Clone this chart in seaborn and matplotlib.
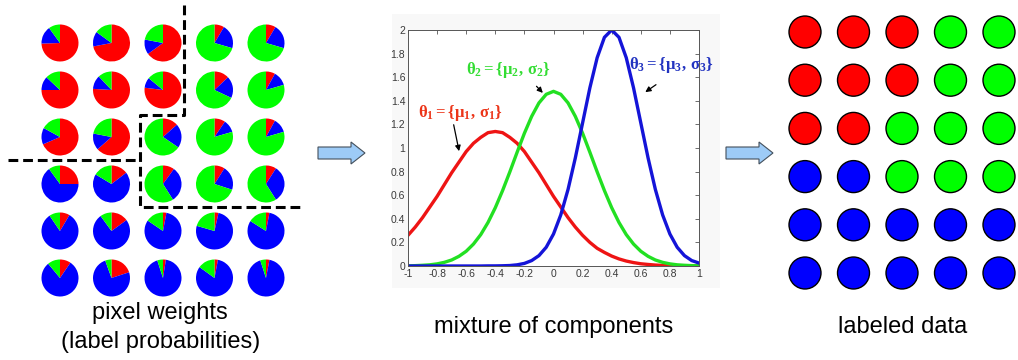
import numpy as np
import pandas as pd
import matplotlib.pyplot as plt
import matplotlib.patches as mpatches
import seaborn as sns

W, H, DPI = 1018, 360, 100

# pie fractions per pixel (rows top -> bottom, cols left -> right)
PIE_RED = [
    [0.745, 0.72, 0.65, 0.085, 0.085],
    [0.75, 0.76, 0.77, 0.13, 0.08],
    [0.685, 0.635, 0.135, 0.095, 0.08],
    [0.25, 0.146, 0.10, 0.09, 0.09],
    [0.085, 0.15, 0.03, 0.035, 0.03],
    [0.095, 0.20, 0.025, 0.03, 0.03],
]
PIE_BLUE = [
    [0.155, 0.13, 0.13, 0.21, 0.21],
    [0.12, 0.12, 0.09, 0.19, 0.125],
    [0.145, 0.145, 0.21, 0.11, 0.125],
    [0.65, 0.69, 0.31, 0.21, 0.32],
    [0.82, 0.75, 0.815, 0.76, 0.81],
    [0.795, 0.745, 0.925, 0.82, 0.92],
]
PIE_GREEN = [
    [0.10, 0.15, 0.22, 0.705, 0.705],
    [0.13, 0.12, 0.14, 0.68, 0.795],
    [0.17, 0.22, 0.655, 0.795, 0.795],
    [0.10, 0.164, 0.59, 0.70, 0.59],
    [0.095, 0.10, 0.155, 0.205, 0.16],
    [0.11, 0.055, 0.05, 0.15, 0.05],
]

# final labels
LABELS = [
    ['r', 'r', 'r', 'g', 'g'],
    ['r', 'r', 'r', 'g', 'g'],
    ['r', 'r', 'g', 'g', 'g'],
    ['b', 'b', 'g', 'g', 'g'],
    ['b', 'b', 'b', 'b', 'b'],
    ['b', 'b', 'b', 'b', 'b'],
]

# mixture components
X_VALS = [-1.0, -0.95, -0.9, -0.85, -0.8, -0.75, -0.7, -0.65, -0.6, -0.55,
          -0.5, -0.45, -0.4, -0.35, -0.3, -0.25, -0.2, -0.15, -0.1, -0.05,
          0.0, 0.05, 0.1, 0.15, 0.2, 0.25, 0.3, 0.35, 0.4, 0.45,
          0.5, 0.55, 0.6, 0.65, 0.7, 0.75, 0.8, 0.85, 0.9, 0.95, 1.0]
RED_CURVE = [0.26, 0.33, 0.41, 0.50, 0.59, 0.69, 0.79, 0.88, 0.97, 1.04,
             1.09, 1.13, 1.14, 1.13, 1.09, 1.04, 0.97, 0.88, 0.79, 0.69,
             0.59, 0.50, 0.41, 0.33, 0.26, 0.20, 0.15, 0.115, 0.084, 0.060,
             0.042, 0.029, 0.019, 0.013, 0.008, 0.005, 0.003, 0.002, 0.001, 0.001, 0.0]
GREEN_CURVE = [0.001, 0.003, 0.006, 0.010, 0.018, 0.031, 0.051, 0.082, 0.125, 0.186,
               0.266, 0.369, 0.494, 0.639, 0.798, 0.964, 1.125, 1.268, 1.382, 1.455,
               1.48, 1.455, 1.382, 1.268, 1.125, 0.964, 0.798, 0.639, 0.494, 0.369,
               0.266, 0.186, 0.125, 0.082, 0.051, 0.031, 0.018, 0.010, 0.006, 0.003, 0.001]
BLUE_CURVE = [0.0, 0.0, 0.0, 0.0, 0.0, 0.0, 0.0, 0.0, 0.0, 0.0,
              0.0, 0.001, 0.001, 0.002, 0.004, 0.010, 0.022, 0.046, 0.088, 0.159,
              0.271, 0.433, 0.649, 0.916, 1.213, 1.510, 1.765, 1.938, 2.0, 1.938,
              1.765, 1.510, 1.213, 0.916, 0.649, 0.433, 0.271, 0.159, 0.088, 0.046, 0.025]

X_TICKS = [-1, -0.8, -0.6, -0.4, -0.2, 0, 0.2, 0.4, 0.6, 0.8, 1]
X_TICKLABELS = ['-1', '-0.8', '-0.6', '-0.4', '-0.2', '0', '0.2', '0.4', '0.6', '0.8', '1']
Y_TICKS = [0, 0.2, 0.4, 0.6, 0.8, 1, 1.2, 1.4, 1.6, 1.8, 2]
Y_TICKLABELS = ['0', '0.2', '0.4', '0.6', '0.8', '1', '1.2', '1.4', '1.6', '1.8', '2']

PIE_COLORS = ['#ff0000', '#0000ff', '#00ff00']
DOT_PALETTE = {'r': '#ff0000', 'g': '#00ff00', 'b': '#0000ff'}
CURVE_PALETTE = {'c1': '#ee1414', 'c2': '#22e022', 'c3': '#1414d8'}

sns.set_theme(style='white')
plt.rcParams['font.family'] = ['Liberation Sans', 'DejaVu Sans']
plt.rcParams['mathtext.fontset'] = 'custom'
plt.rcParams['mathtext.rm'] = 'Liberation Serif:bold'
plt.rcParams['mathtext.it'] = 'Liberation Serif:bold'
plt.rcParams['mathtext.bf'] = 'Liberation Serif:bold'

fig = plt.figure(figsize=(W / DPI, H / DPI), dpi=DPI)
fig.patch.set_facecolor('white')

# overlay axes in pixel units
ax = fig.add_axes([0, 0, 1, 1])

# left panel: pies
for i in range(6):
    for j in range(5):
        ax.pie([PIE_RED[i][j], PIE_BLUE[i][j], PIE_GREEN[i][j]],
               colors=PIE_COLORS, startangle=-90, counterclock=True,
               center=(60 + j * 51.5, 43 + i * 47), radius=18.5,
               wedgeprops=dict(linewidth=0))

# dashed region boundaries
ax.plot([184, 184, 140, 140, 302], [5, 115, 115, 207, 207], color='black',
        lw=2.2, dashes=(3.2, 1.6), solid_capstyle='butt')
ax.plot([8, 140], [160, 160], color='black', lw=2.2, dashes=(3.2, 1.6))

# block arrows
for x0 in (318, 726):
    ax.add_patch(mpatches.FancyArrow(x0, 153, 47, 0, width=12, head_width=22,
                                     head_length=14, length_includes_head=True,
                                     fc='#9dcbf7', ec='#44505c', lw=0.8))

# background of the middle plot
ax.add_patch(mpatches.Rectangle((392, 14), 328, 274, fc='#f8f8f8', ec='none'))

# right panel: labelled dots
dots = pd.DataFrame([(i, j, lab) for i, row in enumerate(LABELS)
                     for j, lab in enumerate(row)], columns=['row', 'col', 'label'])
dots['px'] = 805 + dots['col'] * 48.5
dots['py'] = 32 + dots['row'] * 48.2
sns.scatterplot(data=dots, x='px', y='py', hue='label', palette=DOT_PALETTE,
                s=530, edgecolor='black', linewidth=1.0, legend=False, ax=ax)

# captions
cap = dict(fontsize=17, ha='center', va='center', color='black')
ax.text(160, 313, 'pixel weights', **cap)
ax.text(161, 342, '(label probabilities)', **cap)
ax.text(554, 327, 'mixture of components', **cap)
ax.text(903, 327, 'labeled data', **cap)

ax.set_xlim(0, W)
ax.set_ylim(H, 0)
ax.set_aspect('auto')
ax.axis('off')

# middle plot
ax2 = fig.add_axes([408 / W, 1 - 266 / H, 291 / W, 236 / H])
ax2.set_facecolor('white')
curves = pd.DataFrame({
    'x': X_VALS * 3,
    'y': RED_CURVE + GREEN_CURVE + BLUE_CURVE,
    'component': ['c1'] * len(X_VALS) + ['c2'] * len(X_VALS) + ['c3'] * len(X_VALS),
})
sns.lineplot(data=curves, x='x', y='y', hue='component', palette=CURVE_PALETTE,
             linewidth=2.4, legend=False, ax=ax2)
ax2.set_xlim(-1, 1)
ax2.set_ylim(0, 2)
ax2.set_xticks(X_TICKS, X_TICKLABELS)
ax2.set_yticks(Y_TICKS, Y_TICKLABELS)
ax2.set_xlabel('')
ax2.set_ylabel('')
ax2.tick_params(direction='in', top=True, right=True, length=3, width=0.6,
                labelsize=7.5, labelcolor='#3a3a3a', color='#555555', pad=2)
for sp in ax2.spines.values():
    sp.set_linewidth(0.7)
    sp.set_color('#555555')

lab = dict(fontsize=12, ha='center', va='center', clip_on=False)
ax2.text(-0.64, 1.30, r'$\theta_1 = \{\mu_1,\,\sigma_1\}$', color='#ec3418', **lab)
ax2.text(-0.31, 1.66, r'$\theta_2 = \{\mu_2,\,\sigma_2\}$', color='#33dd33', **lab)
ax2.text(0.81, 1.70, r'$\theta_3 = \{\mu_3,\,\sigma_3\}$', color='#2233c0', **lab)

arr = dict(arrowstyle='-|>', color='black', lw=0.9, mutation_scale=8)
ax2.annotate('', xy=(-0.645, 0.95), xytext=(-0.69, 1.22), arrowprops=arr)
ax2.annotate('', xy=(-0.06, 1.45), xytext=(-0.13, 1.54), arrowprops=arr)
ax2.annotate('', xy=(0.615, 1.46), xytext=(0.72, 1.55), arrowprops=arr)

fig.savefig('out.png', dpi=DPI)
